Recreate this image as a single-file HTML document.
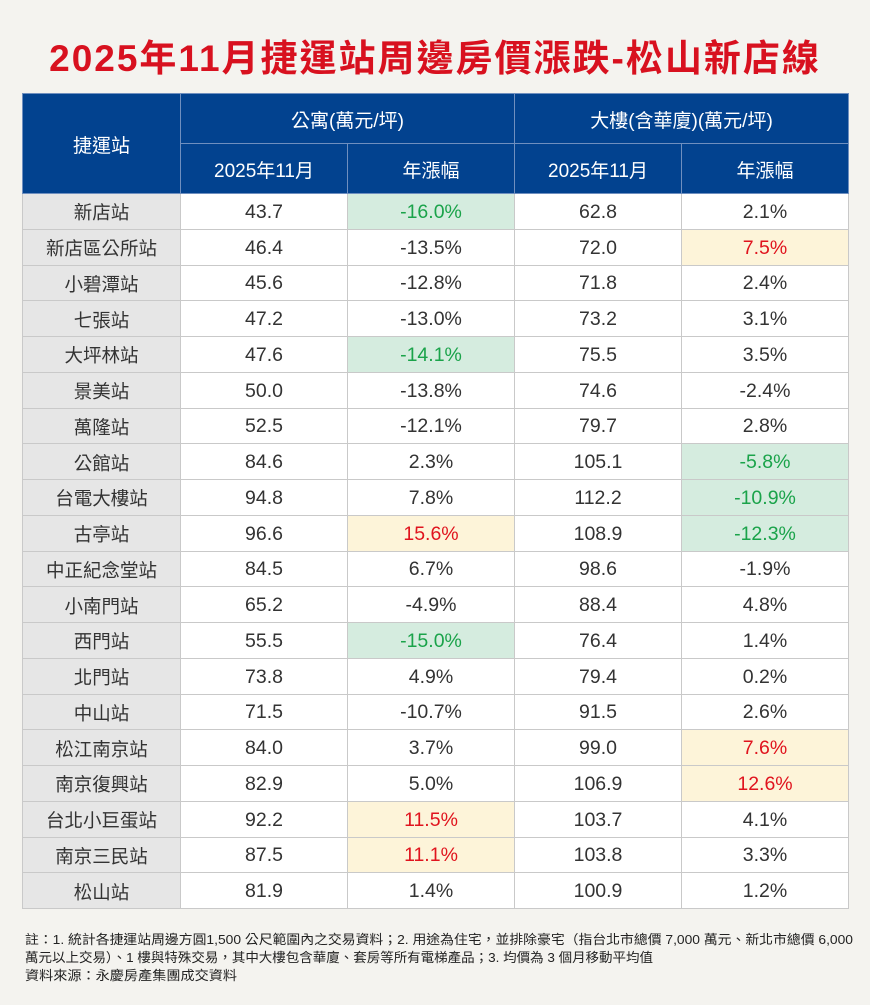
<!DOCTYPE html>
<html><head><meta charset="utf-8"><style>
body{margin:0;width:870px;height:1005px;background:#f4f3ef;font-family:"Liberation Sans","Noto Sans CJK TC",sans-serif;position:relative;overflow:hidden}
.title{position:absolute;top:36px;left:0;width:870px;text-align:center;color:#d8111f;font-size:37px;font-weight:bold;letter-spacing:2px;line-height:46px}
table{position:absolute;left:22px;top:93px;width:826px;border-collapse:collapse;table-layout:fixed}
th{background:#02428f;color:#fff;font-weight:normal;font-size:19px;border:1px solid #6f8fbf;height:47px;padding:2px 0 0}
td{height:32.75px;border:1px solid #c9c9c9;text-align:center;font-size:19.5px;color:#333;background:#fff;padding:2px 0 0}
td.s{background:#e6e6e6;color:#333;font-size:18.5px}
.g{background:#d5ecdf!important;color:#1aa34a}
.y{background:#fdf4d9!important;color:#e0141e}
svg{position:absolute;left:0;top:920px}
</style></head><body>
<div class="title">2025年11月捷運站周邊房價漲跌-松山新店線</div>
<table>
<colgroup><col style="width:158px"><col style="width:167px"><col style="width:167px"><col style="width:167px"><col style="width:167px"></colgroup>
<tr><th rowspan="2">捷運站</th><th colspan="2">公寓(萬元/坪)</th><th colspan="2">大樓(含華廈)(萬元/坪)</th></tr>
<tr><th>2025年11月</th><th>年漲幅</th><th>2025年11月</th><th>年漲幅</th></tr>
<tr><td class="s">新店站</td><td>43.7</td><td class="g">-16.0%</td><td>62.8</td><td>2.1%</td></tr>
<tr><td class="s">新店區公所站</td><td>46.4</td><td>-13.5%</td><td>72.0</td><td class="y">7.5%</td></tr>
<tr><td class="s">小碧潭站</td><td>45.6</td><td>-12.8%</td><td>71.8</td><td>2.4%</td></tr>
<tr><td class="s">七張站</td><td>47.2</td><td>-13.0%</td><td>73.2</td><td>3.1%</td></tr>
<tr><td class="s">大坪林站</td><td>47.6</td><td class="g">-14.1%</td><td>75.5</td><td>3.5%</td></tr>
<tr><td class="s">景美站</td><td>50.0</td><td>-13.8%</td><td>74.6</td><td>-2.4%</td></tr>
<tr><td class="s">萬隆站</td><td>52.5</td><td>-12.1%</td><td>79.7</td><td>2.8%</td></tr>
<tr><td class="s">公館站</td><td>84.6</td><td>2.3%</td><td>105.1</td><td class="g">-5.8%</td></tr>
<tr><td class="s">台電大樓站</td><td>94.8</td><td>7.8%</td><td>112.2</td><td class="g">-10.9%</td></tr>
<tr><td class="s">古亭站</td><td>96.6</td><td class="y">15.6%</td><td>108.9</td><td class="g">-12.3%</td></tr>
<tr><td class="s">中正紀念堂站</td><td>84.5</td><td>6.7%</td><td>98.6</td><td>-1.9%</td></tr>
<tr><td class="s">小南門站</td><td>65.2</td><td>-4.9%</td><td>88.4</td><td>4.8%</td></tr>
<tr><td class="s">西門站</td><td>55.5</td><td class="g">-15.0%</td><td>76.4</td><td>1.4%</td></tr>
<tr><td class="s">北門站</td><td>73.8</td><td>4.9%</td><td>79.4</td><td>0.2%</td></tr>
<tr><td class="s">中山站</td><td>71.5</td><td>-10.7%</td><td>91.5</td><td>2.6%</td></tr>
<tr><td class="s">松江南京站</td><td>84.0</td><td>3.7%</td><td>99.0</td><td class="y">7.6%</td></tr>
<tr><td class="s">南京復興站</td><td>82.9</td><td>5.0%</td><td>106.9</td><td class="y">12.6%</td></tr>
<tr><td class="s">台北小巨蛋站</td><td>92.2</td><td class="y">11.5%</td><td>103.7</td><td>4.1%</td></tr>
<tr><td class="s">南京三民站</td><td>87.5</td><td class="y">11.1%</td><td>103.8</td><td>3.3%</td></tr>
<tr><td class="s">松山站</td><td>81.9</td><td>1.4%</td><td>100.9</td><td>1.2%</td></tr>
</table>
<svg width="870" height="80" font-family="Liberation Sans, Noto Sans CJK TC, sans-serif" font-size="13" fill="#222">
<text x="25" y="24" textLength="828" lengthAdjust="spacingAndGlyphs">註：1. 統計各捷運站周邊方圓1,500 公尺範圍內之交易資料；2. 用途為住宅，並排除豪宅（指台北市總價 7,000 萬元、新北市總價 6,000</text>
<text x="25" y="42" textLength="628" lengthAdjust="spacingAndGlyphs">萬元以上交易）、1 樓與特殊交易，其中大樓包含華廈、套房等所有電梯產品；3. 均價為 3 個月移動平均值</text>
<text x="25" y="60" textLength="212" lengthAdjust="spacingAndGlyphs">資料來源：永慶房產集團成交資料</text>
</svg>
</body></html>
